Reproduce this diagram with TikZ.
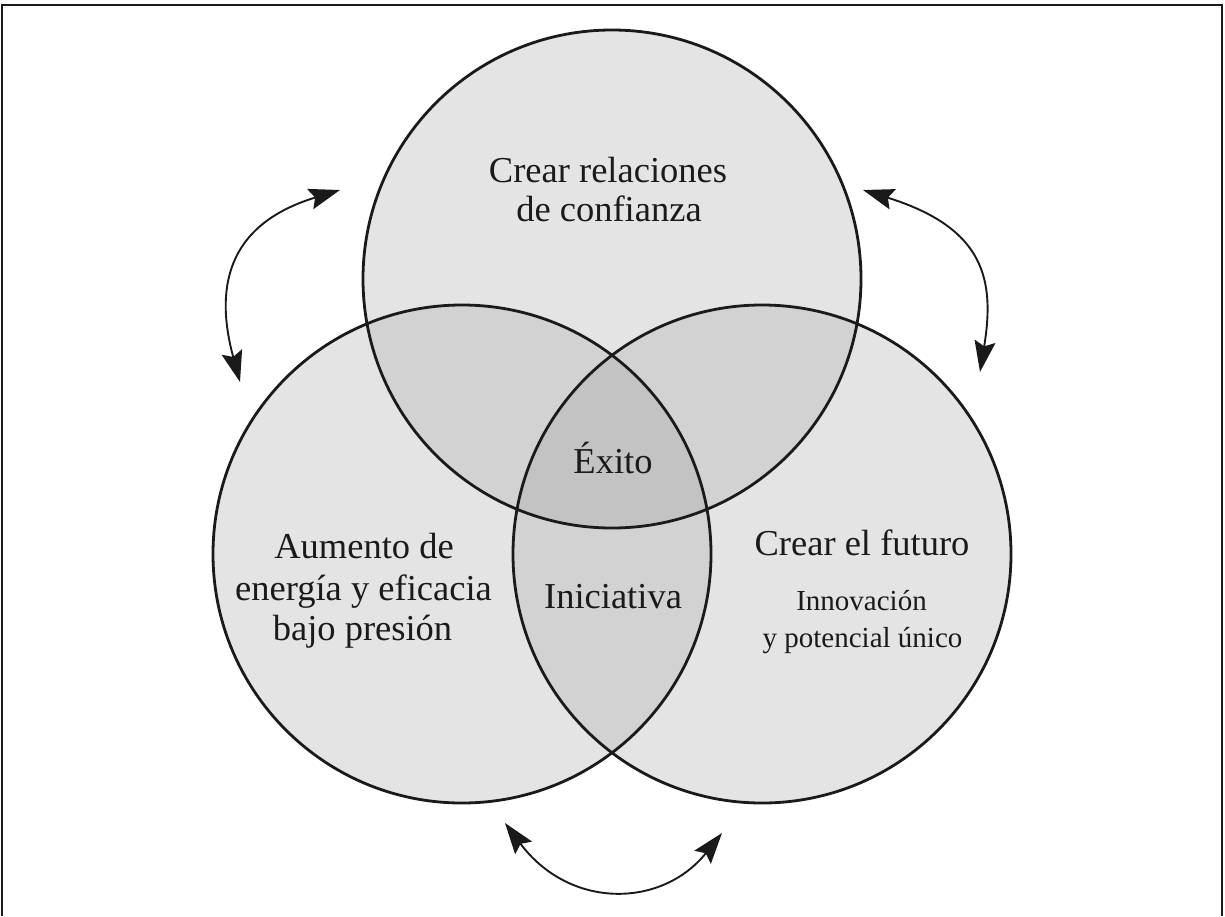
\documentclass[tikz,border=0pt]{standalone}
\usepackage{fontspec}
\setmainfont{Liberation Serif}
\usetikzlibrary{arrows.meta}
\definecolor{ink}{HTML}{1A1A1A}
\definecolor{setfill}{HTML}{E4E4E4}
\definecolor{pairfill}{HTML}{D2D2D2}
\definecolor{corefill}{HTML}{C3C3C3}

\begin{document}
\begin{tikzpicture}[x=1pt,y=-1pt,
  setline/.style={draw=ink,line width=2.8pt},
  swaparrow/.style={draw=ink,line width=1.9pt,
    {Stealth[length=31pt,width=21pt,inset=5pt]}-{Stealth[length=31pt,width=21pt,inset=5pt]}},
  bigtext/.style={font=\fontsize{36.5}{41}\selectfont,text=ink,anchor=base,inner sep=0pt},
  smalltext/.style={font=\fontsize{29}{37}\selectfont,text=ink,anchor=base,inner sep=0pt}]
\useasboundingbox (0,0) rectangle (1225,916);

% frame, open at the bottom
\draw[ink,line width=2.5pt] (2,916) -- (2,5) -- (1222,5) -- (1222,916);

% centres of the three discs
\coordinate (cT) at (612,279);
\coordinate (cL) at (462,554);
\coordinate (cR) at (762,554);

% discs and their overlaps
\fill[setfill] (cT) circle[radius=249pt] (cL) circle[radius=249pt] (cR) circle[radius=249pt];
\begin{scope}
  \clip (cT) circle[radius=249pt];
  \fill[pairfill] (cL) circle[radius=249pt] (cR) circle[radius=249pt];
\end{scope}
\begin{scope}
  \clip (cL) circle[radius=249pt];
  \fill[pairfill] (cR) circle[radius=249pt];
\end{scope}
\begin{scope}
  \clip (cT) circle[radius=249pt];
  \clip (cL) circle[radius=249pt];
  \fill[corefill] (cR) circle[radius=249pt];
\end{scope}
\draw[setline] (cT) circle[radius=249pt];
\draw[setline] (cL) circle[radius=249pt];
\draw[setline] (cR) circle[radius=249pt];

% two-way arrows between the discs
\coordinate (lA) at (240,382);
\coordinate (lB) at (340,190);
\coordinate (rA) at (980,372);
\coordinate (rB) at (863,190);
\coordinate (bA) at (505,823);
\coordinate (bB) at (722,833);
\draw[swaparrow] (lA) .. controls (215,290) and (225,225) .. (lB);
\draw[swaparrow] (rA) .. controls (995,280) and (985,228) .. (rB);
\draw[swaparrow] (bA) .. controls (570,910) and (662,908) .. (bB);

% labels
\node[bigtext] (t1) at (608,182) {Crear relaciones};
\node[bigtext] (t2) at (609,221) {de confianza};
\node[bigtext] (l1) at (364,558) {Aumento de};
\node[bigtext] (l2) at (363.5,600) {energía y eficacia};
\node[bigtext] (l3) at (362.5,640) {bajo presión};
\node[bigtext] (core) at (613,473) {Éxito};
\node[bigtext] (lr) at (613,608) {Iniciativa};
\node[bigtext] (r1) at (862,555) {Crear el futuro};
\node[smalltext] (r2) at (861.5,610) {Innovación};
\node[smalltext] (r3) at (862.5,647) {y potencial único};
\end{tikzpicture}
\end{document}
